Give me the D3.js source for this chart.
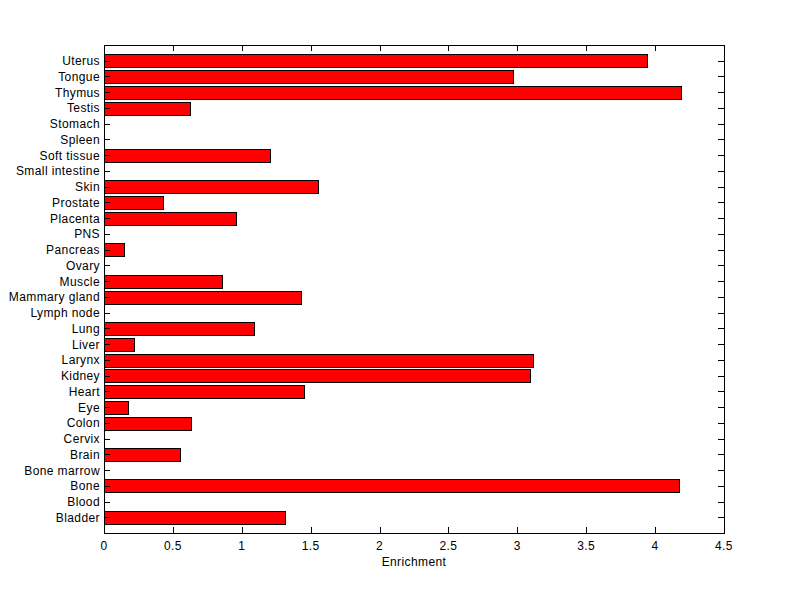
<!DOCTYPE html>
<html><head><meta charset="utf-8">
<script src="https://cdn.jsdelivr.net/npm/d3@7"></script>
<style>body{margin:0;background:#fff}svg{display:block}text{font-family:"Liberation Sans",Arial,sans-serif;font-size:12px;letter-spacing:0.4px}</style>
</head><body><svg id="c" width="800" height="599"></svg>
<script>
const categories = ["Bladder","Blood","Bone","Bone marrow","Brain","Cervix","Colon","Eye","Heart","Kidney","Larynx","Liver","Lung","Lymph node","Mammary gland","Muscle","Ovary","Pancreas","PNS","Placenta","Prostate","Skin","Small intestine","Soft tissue","Spleen","Stomach","Testis","Thymus","Tongue","Uterus"];
const values = [1.313,0,4.17,0,0.549,0,0.631,0.174,1.451,3.09,3.113,0.218,1.091,0,1.43,0.859,0,0.143,0,0.958,0.428,1.553,0,1.205,0,0,0.626,4.19,2.97,3.94];
const xTicks = [0,0.5,1,1.5,2,2.5,3,3.5,4,4.5];
const xLabel = "Enrichment";

const svg = d3.select("#c");
const L=104, R=724, T=45, B=533;
const x = d3.scaleLinear().domain([0,4.5]).range([L,R]);
const y = d3.scaleLinear().domain([0,31]).range([B,T]);
const band = (y(0)-y(0.8));
const g = svg.append("g").attr("shape-rendering","crispEdges");

g.selectAll("rect.bar").data(values.map((v,i)=>({v,i}))).join("rect")
  .filter(d=>d.v>0)
  .attr("x",x(0)+0.5).attr("y",d=>Math.round(y(d.i+1)-band/2)+0.5)
  .attr("width",d=>Math.round(x(d.v)-x(0))).attr("height",Math.round(band))
  .attr("fill","#ff0000").attr("stroke","#000").attr("stroke-width",1);

g.append("rect").attr("x",L+0.5).attr("y",T+0.5).attr("width",R-L).attr("height",B-T)
  .attr("fill","none").attr("stroke","#000");

const tl=6;
xTicks.forEach(t=>{
  const px=Math.round(x(t))+0.5;
  g.append("line").attr("x1",px).attr("x2",px).attr("y1",B).attr("y2",B-tl).attr("stroke","#000");
  g.append("line").attr("x1",px).attr("x2",px).attr("y1",T).attr("y2",T+tl).attr("stroke","#000");
  svg.append("text").attr("x",x(t)).attr("y",B+17).attr("text-anchor","middle").text(String(t));
});
categories.forEach((c,i)=>{
  const py=Math.round(y(i+1))+0.5;
  g.append("line").attr("x1",L).attr("x2",L+tl).attr("y1",py).attr("y2",py).attr("stroke","#000");
  g.append("line").attr("x1",R).attr("x2",R-tl).attr("y1",py).attr("y2",py).attr("stroke","#000");
  svg.append("text").attr("x",L-4).attr("y",y(i+1)+4.5).attr("text-anchor","end").text(c);
});
svg.append("text").attr("x",(L+R)/2).attr("y",566).attr("text-anchor","middle").text(xLabel);
</script></body></html>
